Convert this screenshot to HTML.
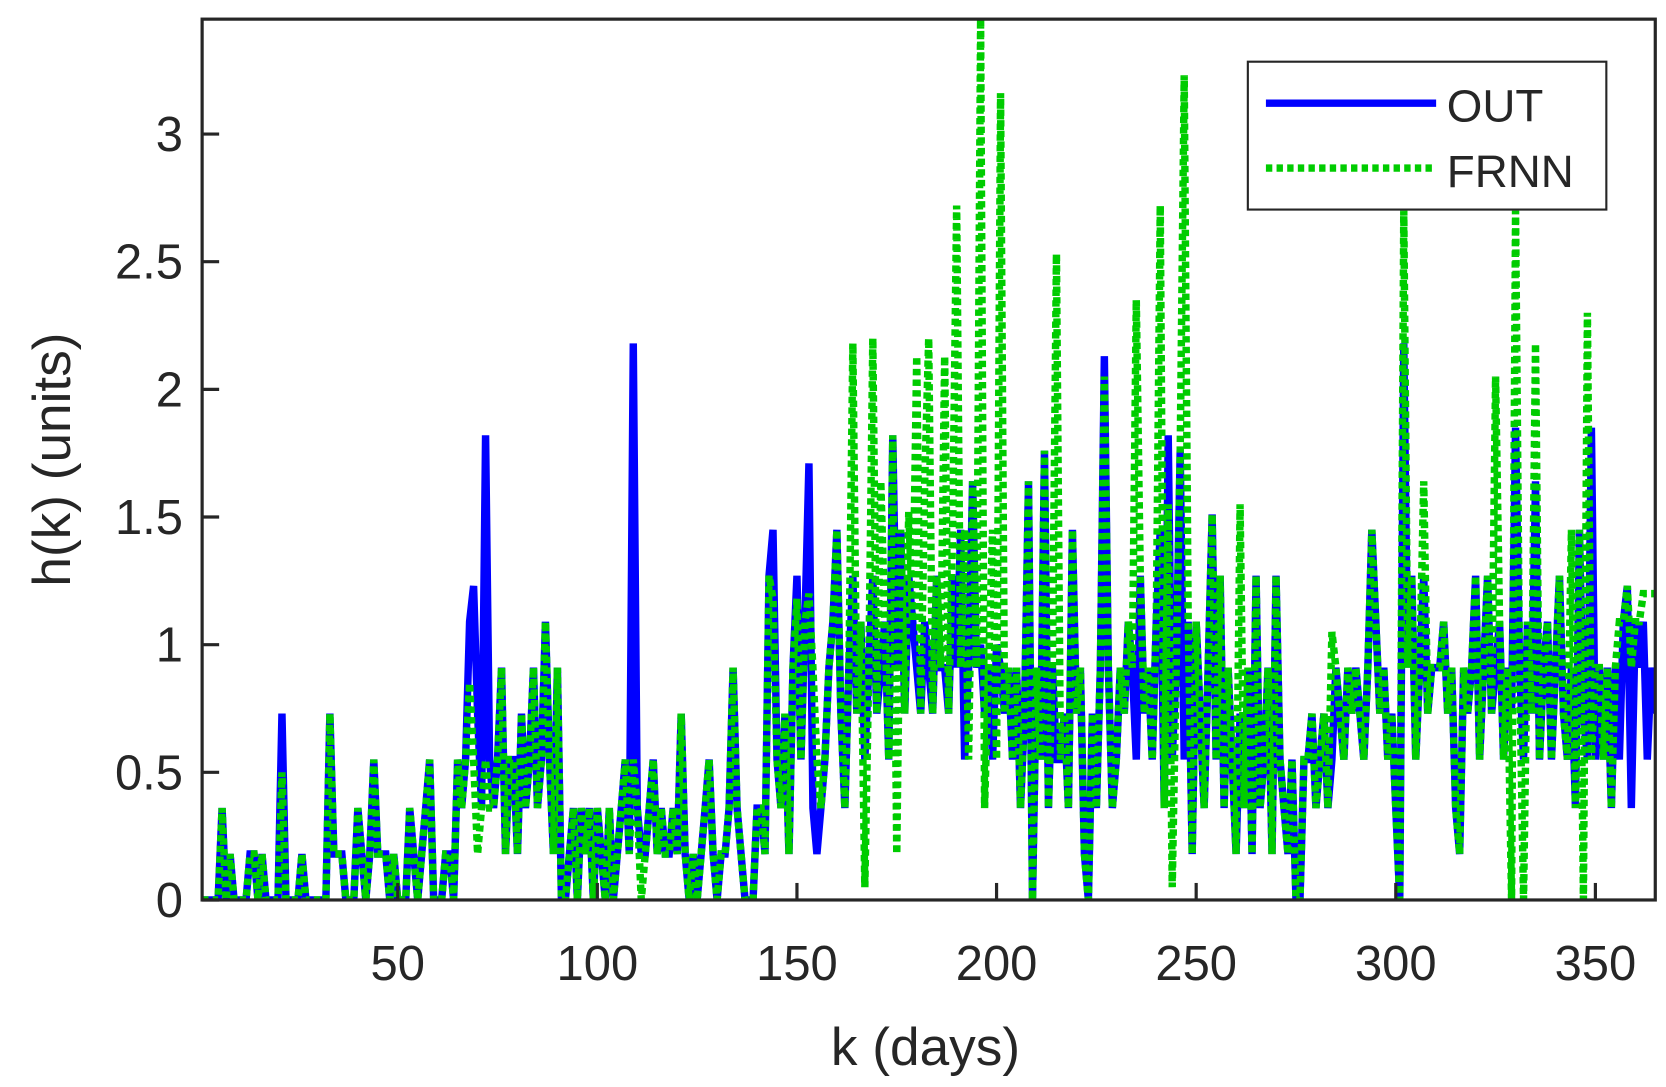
<!DOCTYPE html>
<html><head><meta charset="utf-8"><style>
body{margin:0;background:#fff;}
svg text{font-family:"Liberation Sans",Arial,sans-serif;fill:#262626;}
</style></head><body>
<svg width="1666" height="1082" viewBox="0 0 1666 1082" xmlns="http://www.w3.org/2000/svg">
<defs><clipPath id="pc"><rect x="190" y="18" width="1366" height="828"/></clipPath></defs>
<g transform="scale(1.0638)">
<g id="series" clip-path="url(#pc)"></g>
<g id="axes"></g>
<g id="legend"></g>
</g>
</svg>
<script>
const xTicks=[50,100,150,200,250,300,350];
const yTicks=[0,0.5,1,1.5,2,2.5,3];
const yTickLabels=["0","0.5","1","1.5","2","2.5","3"];
const outVals=[
0,0,0,
0,0,0.36,0,0.18,0,0,0,0,0.18,
0.18,0,0.18,0,0,0,0,0.73,0,0,
0,0,0.18,0,0,0,0,0,0,0.73,
0.18,0.18,0.18,0,0,0,0.36,0.18,0,0.18,
0.55,0.18,0.18,0.18,0,0.18,0,0,0,0.36,
0.18,0,0.18,0.36,0.55,0,0,0,0.18,0.18,
0,0.55,0.36,0.55,1.09,1.23,0.73,0.36,1.82,0.55,
0.36,0.55,0.91,0.18,0.55,0.55,0.18,0.73,0.36,0.55,
0.91,0.36,0.55,1.09,0.55,0.18,0.91,0,0,0.18,
0.36,0,0.36,0.18,0.36,0,0.36,0.18,0,0.36,
0,0.18,0.36,0.55,0.18,2.18,0.36,0.18,0.18,0.36,
0.55,0.18,0.36,0.18,0.18,0.36,0.18,0.73,0.18,0,
0.18,0,0.18,0.36,0.55,0.18,0,0.18,0.18,0.36,
0.91,0.36,0.18,0,0,0,0.36,0.36,0.18,1.27,
1.45,0.55,0.36,0.73,0.18,0.91,1.27,0.55,1.09,1.71,
0.36,0.18,0.36,0.55,0.91,1.09,1.45,0.73,0.36,0.91,
1.27,0.73,1.09,0.55,0.91,1.27,0.73,0.91,1.09,0.55,
1.82,0.91,1.45,0.73,1.27,1.09,0.91,0.73,1.09,0.91,
0.73,1.27,0.91,0.91,0.73,1.27,0.91,1.45,0.55,0.91,
1.64,0.91,1.0,0.73,0.91,0.55,1.0,0.91,0.73,0.91,
0.55,0.91,0.36,0.73,1.64,0,0.91,0.55,1.76,0.36,
0.91,0.55,0.55,0.73,0.36,1.45,0.73,0.91,0.18,0,
0.73,0.36,0.91,2.13,0.91,0.36,0.55,0.91,0.73,1.09,
0.91,0.55,1.27,0.73,0.91,0.55,1.09,1.45,0.36,1.82,
0.55,0.91,1.76,0.55,1.09,0.18,1.09,0.73,0.36,0.91,
1.51,0.55,1.27,0.36,0.91,0.55,0.18,0.73,0.36,0.91,
0.18,1.27,0.36,0.55,0.91,0.18,1.27,0.55,0.36,0.18,
0.55,0,0,0.55,0.55,0.73,0.36,
0.55,0.73,0.36,0.55,0.91,0.73,0.55,0.91,0.73,0.91,
0.73,0.55,0.91,1.45,1.09,0.73,0.91,0.55,0.73,0.36,
0,2.18,0.91,1.27,0.55,0.91,1.27,0.73,0.91,0.91,
0.91,1.09,0.73,0.91,0.36,0.18,0.91,0.73,0.91,1.27,
0.55,0.91,1.27,0.73,0.91,1.09,0.55,0.91,0.73,1.85,
0.91,0.55,1.09,0.73,1.64,0.55,0.91,1.09,0.55,0.91,
1.27,0.73,0.55,0.91,0.36,1.45,0.73,0.55,1.85,0.55,
0.91,0.55,0.91,0.36,0.91,0.55,1.09,1.23,0.36,1.09,
0.91,1.09,0.55,0.91,0.73];
const frnnVals=[
0,0,0,
0,0,0.36,0,0.18,0,0,0,0,0.18,
0.18,0,0.18,0,0,0,0,0.5,0,0,
0,0,0.18,0,0,0,0,0,0,0.73,
0.18,0.18,0.18,0,0,0,0.36,0.18,0,0.18,
0.55,0.18,0.18,0.18,0,0.18,0,0,0,0.36,
0.18,0,0.18,0.36,0.55,0,0,0,0.18,0.18,
0,0.55,0.36,0.55,0.85,0.55,0.18,0.36,0.55,0.36,
0.36,0.55,0.91,0.18,0.55,0.55,0.18,0.73,0.36,0.55,
0.91,0.36,0.55,1.09,0.55,0.18,0.91,0,0,0.18,
0.36,0,0.36,0.18,0.36,0,0.36,0.18,0,0.36,
0,0.18,0.36,0.55,0.18,0.55,0.36,0,0.18,0.36,
0.55,0.18,0.36,0.18,0.18,0.36,0.18,0.73,0.18,0,
0.18,0,0.18,0.36,0.55,0.18,0,0.18,0.18,0.36,
0.91,0.36,0.18,0,0,0,0.36,0.36,0.18,1.27,
1.18,0.55,0.36,0.73,0.18,0.91,1.18,0.55,1.09,1.2,
0.91,0.55,0.36,0.55,0.91,1.09,1.45,0.73,0.36,0.91,
2.18,0.73,1.09,0.05,0.91,2.2,0.73,1.64,1.09,0.55,
1.82,0.18,1.45,0.73,1.52,1.09,2.13,0.73,1.64,2.2,
0.73,1.27,0.91,2.13,0.73,1.45,2.72,0.91,1.45,0.55,
1.64,0.91,3.45,0.36,0.91,1.45,0.55,3.16,0.73,0.91,
0.55,0.91,0.36,0.73,1.64,0,0.91,0.55,1.76,0.36,
0.91,2.53,0.55,0.73,0.36,1.45,0.73,0.91,0.18,0,
0.73,0.36,0.91,2.05,0.91,0.36,0.55,0.91,0.73,1.09,
0.91,2.35,1.27,0.73,0.91,0.55,1.09,2.72,0.36,1.55,
0.05,0.91,1.76,3.23,1.09,0.18,1.09,0.73,0.36,0.91,
1.51,0.55,1.27,0.36,0.91,0.55,0.18,1.55,0.36,0.91,
0.18,1.27,0.36,0.55,0.91,0.18,1.27,0.55,0.36,0.18,
0.55,0,0,0.55,0.55,0.73,0.36,
0.55,0.73,0.36,1.05,0.91,0.73,0.55,0.91,0.73,0.91,
0.73,0.55,0.91,1.45,1.09,0.73,0.91,0.55,0.73,0.36,
0,2.7,0.91,1.27,0.55,0.91,1.64,0.73,0.91,0.91,
0.91,1.09,0.73,0.91,0.36,0.18,0.91,0.73,0.91,1.27,
0.55,0.91,1.27,0.73,2.05,1.09,0.55,0.91,0,2.7,
0.91,0,1.09,0.73,2.18,0.55,0.91,1.09,0.55,0.91,
1.27,0.73,0.55,1.45,0.36,1.45,0,2.3,0.55,0.91,
0.91,0.55,0.91,0.36,0.91,1.09,1.09,1.23,0.91,1.09,
1.09,1.2,1.2,1.2,1.2];

const NS="http://www.w3.org/2000/svg";
const L=190,R=1556,T=18,B=846,xMin=1,xMax=365,yMin=0,yMax=3.45;
const xs=v=>L+(v-xMin)/(xMax-xMin)*(R-L);
const ys=v=>B-(v-yMin)/(yMax-yMin)*(B-T);
function mk(tag,attrs,parent){const e=document.createElementNS(NS,tag);for(const k in attrs)e.setAttribute(k,attrs[k]);parent.appendChild(e);return e;}
const axes=document.getElementById('axes'),series=document.getElementById('series'),legend=document.getElementById('legend');

function drawLine(vals,attrs,name){
  const d=vals.map((v,i)=>(i?'L':'M')+xs(i+1).toFixed(2)+','+ys(v).toFixed(2)).join('');
  const p=mk('path',Object.assign({d:d,fill:'none','stroke-linejoin':'miter'},attrs),series);
  
  
}
drawLine(outVals,{stroke:'#0000ff','stroke-width':7},'out-series-line');
drawLine(frnnVals,{stroke:'#00cc00','stroke-width':7,'stroke-dasharray':'6 4'},'frnn-series-line');

const box=mk('rect',{x:L,y:T,width:R-L,height:B-T,fill:'none',stroke:'#262626','stroke-width':3},axes);


xTicks.forEach(t=>{
  const x=xs(t);
  const tk=mk('line',{x1:x,x2:x,y1:B,y2:B-16,stroke:'#262626','stroke-width':3},axes);
  
  
  const tx=mk('text',{x:x,y:921,'text-anchor':'middle','font-size':46},axes);
  tx.textContent=t;
  
  
});
yTicks.forEach((t,i)=>{
  const y=ys(t);
  const tk=mk('line',{x1:L,x2:L+16,y1:y,y2:y,stroke:'#262626','stroke-width':3},axes);
  
  
  const tx=mk('text',{x:172,y:y+16,'text-anchor':'end','font-size':46},axes);
  tx.textContent=yTickLabels[i];
  
  
});
const xt=mk('text',{x:870,y:1001,'text-anchor':'middle','font-size':50},axes);
xt.textContent='k (days)';


const yt=mk('text',{x:0,y:0,'text-anchor':'middle','font-size':50,transform:'translate(66,432) rotate(-90)'},axes);
yt.textContent='h(k) (units)';



const lb=mk('rect',{x:1173,y:58,width:337,height:139,fill:'#fff',stroke:'#262626','stroke-width':2},legend);


const l1=mk('line',{x1:1190,x2:1350,y1:97,y2:97,stroke:'#0000ff','stroke-width':7},legend);


const t1=mk('text',{x:1360,y:114,'font-size':43},legend);
t1.textContent='OUT';


const l2=mk('line',{x1:1190,x2:1350,y1:158,y2:158,stroke:'#00cc00','stroke-width':7,'stroke-dasharray':'6 4'},legend);


const t2=mk('text',{x:1360,y:176,'font-size':43},legend);
t2.textContent='FRNN';


</script>
</body></html>
